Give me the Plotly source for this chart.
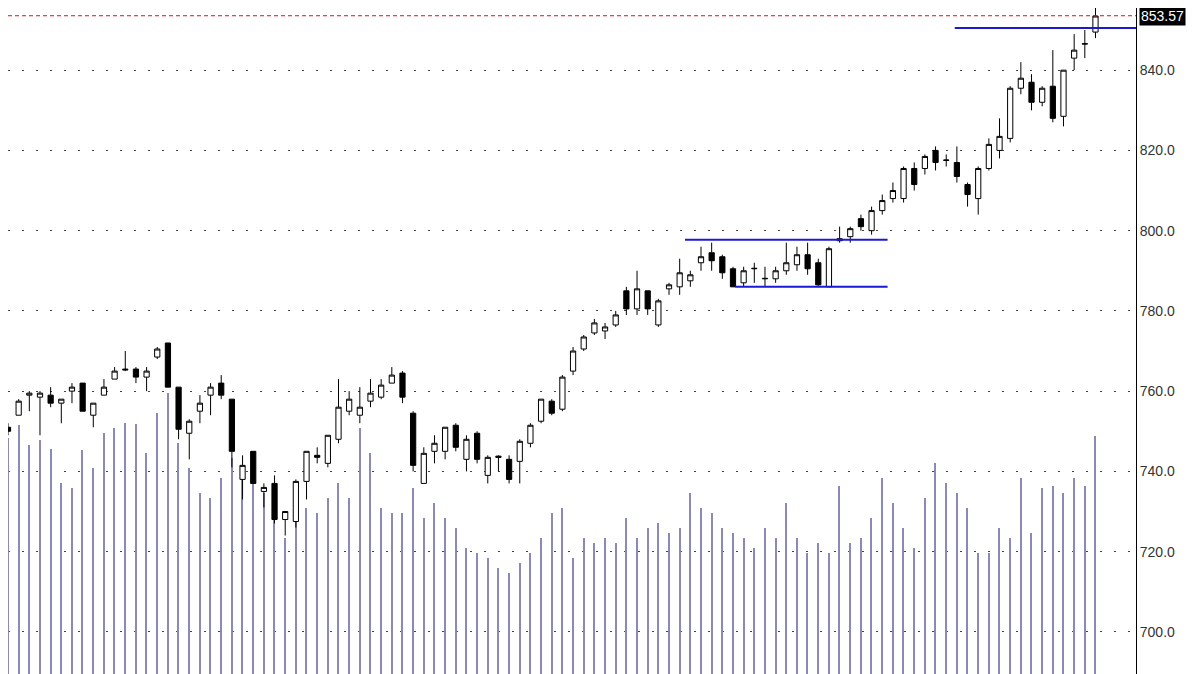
import plotly.graph_objects as go

# daily candles (open, high, low, close)
opens = [751, 754, 759, 758.5, 759, 757, 760, 762, 754, 759, 763, 765.5, 765.5, 763.5, 768.5, 772, 761, 749.5, 755, 759,
         762, 758, 738, 745, 735, 737, 728, 727.5, 737.5, 744, 742, 748, 755, 754, 757.5, 758.5, 762, 764.5, 754.5, 737,
         745, 745, 751.5, 743, 749.5, 739, 743.8, 743, 742.5, 747, 752.5, 757.5, 755.5, 765, 770.5, 774.5, 775, 776.5, 785, 780.5,
         785, 776.5, 785.5, 786, 787.5, 792, 794.5, 793.5, 790.5, 787, 790.5, 788, 788, 790, 791.5, 794, 792, 786, 797.5, 798.5,
         803, 800, 805, 808, 808, 815.5, 815.5, 820, 817.5, 817, 811.5, 808, 815.5, 820, 823, 835.5, 837, 832, 836, 828.5,
         843, 846.5, 849.5]
closes = [750, 757.5, 759.5, 759.5, 757, 758, 761, 755, 757, 761, 765, 765.3, 763.5, 765, 770.5, 761, 750.5, 752.5, 757, 761,
          759, 745, 741.5, 737, 736, 728, 730, 737.5, 745, 743.5, 749, 756, 758, 756, 759.5, 761.5, 764, 758.5, 741.5, 744.5,
          747, 751, 746, 748, 743, 743.5, 743.5, 738, 747.5, 751.5, 758, 754.5, 763.5, 770, 773.5, 777, 776, 779, 780.5, 785.5,
          780.5, 782.5, 786.5, 789.5, 789, 793.5, 792.5, 789.5, 786, 790, 790.6, 788.1, 790, 792, 794, 790.5, 786.5, 795.5, 798, 800.5,
          801, 805, 807.5, 810, 815.5, 811.5, 818.5, 817, 817.6, 813.5, 809, 815.5, 821.5, 823.5, 835.5, 838, 832, 835.5, 828, 840,
          845, 846.6, 853.5]
highs = [752, 758, 760, 760, 761, 758, 762, 762, 757, 763, 766, 770, 766, 766, 771, 772, 761, 753, 759, 762,
         764, 758, 744, 745, 737, 739, 730, 738, 745, 746, 749, 763, 760, 761, 763, 763, 766, 765, 755, 746,
         749, 751, 752, 749, 750, 744, 744, 744, 748, 752, 758, 758, 764, 771, 774, 778, 777, 780, 786, 790,
         785, 783, 787, 793, 790, 796, 797, 794, 791, 791, 792, 791, 791, 797, 796, 797, 793, 796, 801, 801,
         804, 806, 809, 812, 816, 817, 819, 821, 819, 821, 812, 816, 823, 828, 836, 842, 839, 836, 845, 840,
         849, 850, 857]
lows = [749, 754, 755, 749, 756, 752, 757, 755, 751, 759, 763, 765, 762, 760, 768, 761, 748, 743, 752, 754,
        758, 741, 733, 737, 731, 727, 724, 726, 733, 742, 741, 747, 754, 752, 756, 758, 762, 757, 740, 737,
        742, 743, 745, 740, 742, 737, 740, 737, 737, 746, 752, 754, 755, 764, 770, 774, 773, 776, 779, 779,
        779, 776, 784, 784, 786, 790, 790, 788, 786, 786, 787, 786, 787, 789, 790, 789, 786, 786, 797, 797,
        800, 799, 804, 807, 807, 810, 814, 815, 816, 812, 806, 804, 815, 818, 822, 834, 830, 831, 827, 826,
        840, 843, 848]
volume_tops = [430, 417, 437, 432, 441, 475, 480, 442, 460, 425, 420, 415, 416, 445, 405, 385, 435, 460, 485, 490,
               470, 450, 465, 470, 485, 490, 530, 495, 500, 505, 490, 475, 490, 420, 445, 500, 505, 505, 480, 510,
               495, 510, 520, 540, 545, 550, 560, 565, 555, 545, 530, 505, 500, 550, 530, 535, 530, 535, 510, 530,
               520, 515, 525, 520, 485, 500, 505, 520, 525, 530, 540, 520, 530, 495, 530, 545, 535, 545, 478, 535,
               530, 510, 470, 495, 520, 540, 490, 455, 475, 485, 500, 545, 545, 520, 530, 470, 525, 480, 478, 485,
               470, 478, 428]
volume = [674 - v for v in volume_tops]
last_price = 853.57
price_ticks = [700, 720, 740, 760, 780, 800, 820, 840]

n = len(opens)
idx = list(range(n))

fig = go.Figure()
fig.add_trace(go.Bar(x=idx, y=volume, width=0.12, marker=dict(color="#8a8ab8", line=dict(width=0)),
                     yaxis="y", hoverinfo="skip"))
fig.add_trace(go.Candlestick(x=idx, open=opens, high=highs, low=lows, close=closes, yaxis="y2",
                             whiskerwidth=0,
                             increasing=dict(fillcolor="white", line=dict(color="black", width=1)),
                             decreasing=dict(fillcolor="black", line=dict(color="black", width=1))))

# trend / range lines
lines = [(63.5, 82.5, 797.75), (68.2, 82.5, 786), (88.8, 106, 850.5)]
for x0, x1, yv in lines:
    fig.add_shape(type="line", xref="x", yref="y2", x0=x0, x1=x1, y0=yv, y1=yv,
                  line=dict(color="#1a1ad0", width=2))
fig.add_shape(type="line", xref="paper", yref="y2", x0=0, x1=1, y0=last_price, y1=last_price,
              line=dict(color="#dd1010", width=1, dash="4px,3px"))
fig.add_annotation(xref="paper", yref="y2", x=1.003, y=last_price, text=f"{last_price:.2f}",
                   showarrow=False, xanchor="left", bgcolor="black", font=dict(color="white", size=14, family="Arial"),
                   borderpad=1)

fig.update_layout(
    width=1200, height=674, margin=dict(l=0, r=72, t=0, b=0),
    paper_bgcolor="white", plot_bgcolor="white", showlegend=False, bargap=0,
    xaxis=dict(range=[0, 105.8], visible=False, rangeslider=dict(visible=False)),
    yaxis=dict(range=[0, 674], visible=False, fixedrange=True),
    yaxis2=dict(range=[687.5, 855.5], overlaying="y", side="right", tickvals=price_ticks,
                ticktext=[f"{t:.1f}" for t in price_ticks], showgrid=True, gridcolor="#444",
                griddash="2px,12px", gridwidth=1, showline=True, linecolor="black", linewidth=1,
                ticks="", zeroline=False, tickfont=dict(size=14, color="#333", family="Arial")),
)

fig.write_html("out.html")
